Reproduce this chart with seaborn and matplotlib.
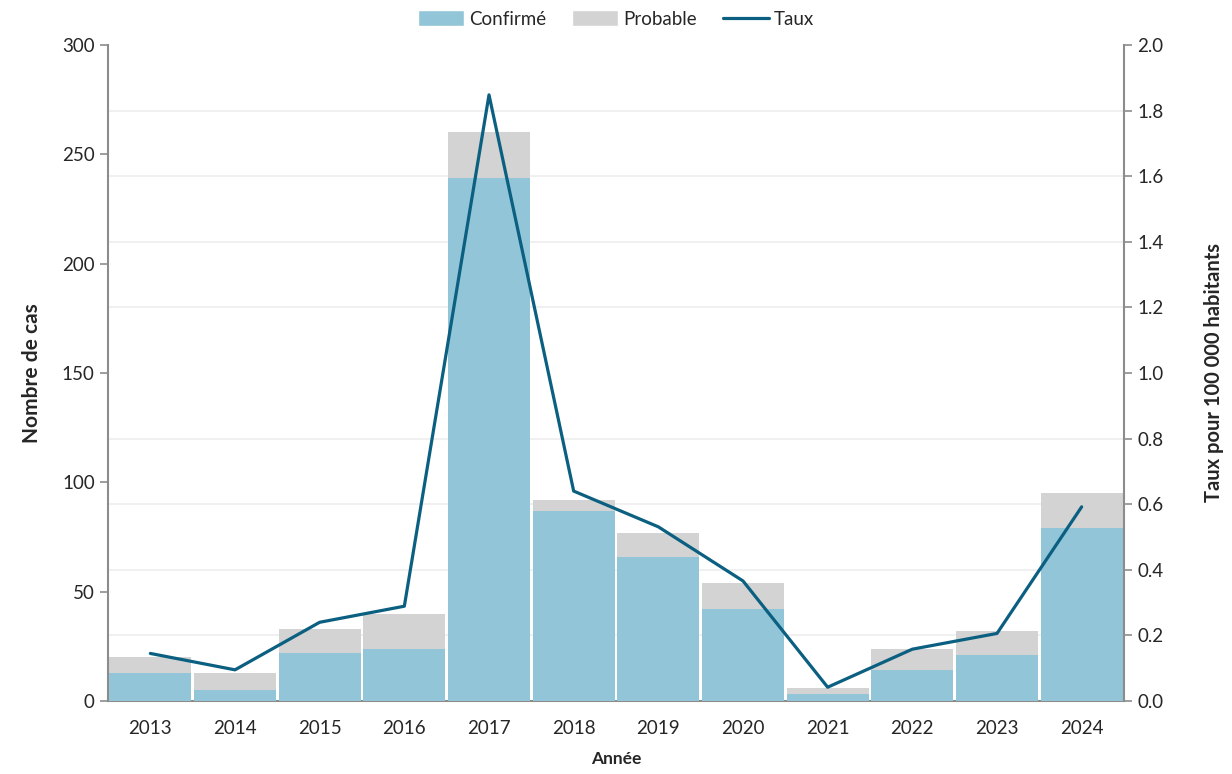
import numpy as np
import pandas as pd
import matplotlib
matplotlib.use("Agg")
import matplotlib.pyplot as plt
import seaborn as sns
from matplotlib.ticker import MultipleLocator, FixedLocator
from matplotlib.patches import Patch
from matplotlib.lines import Line2D

# Data
annees = ["2013", "2014", "2015", "2016", "2017", "2018",
          "2019", "2020", "2021", "2022", "2023", "2024"]
confirme = [13, 5, 22, 24, 239, 87, 66, 42, 3, 14, 21, 79]
probable = [7, 8, 11, 16, 21, 5, 11, 12, 3, 10, 11, 16]
taux = [0.145, 0.095, 0.24, 0.289, 1.848, 0.64, 0.531, 0.366, 0.042, 0.158, 0.206, 0.592]

BLEU = "#92C5D8"
GRIS = "#D3D3D3"
LIGNE = "#0B5F80"
AXE = "#8C8C8C"

sns.set_style("white")
plt.rcParams["font.family"] = ["Lato", "DejaVu Sans"]

df = pd.DataFrame({"Année": annees, "Confirmé": confirme, "Probable": probable, "Taux": taux})
df["Total"] = df["Confirmé"] + df["Probable"]
df["pos"] = np.arange(len(df))

fig = plt.figure(figsize=(12.32, 7.74), dpi=100)
ax = fig.add_axes([108 / 1232, 73 / 774, (1124 - 108) / 1232, 656 / 774])

# gridlines match the right axis steps (0.2 -> 30 cases)
ax.yaxis.set_minor_locator(MultipleLocator(30))
ax.grid(which="minor", axis="y", color="#EDEDED", linewidth=1.2, zorder=0)
ax.set_axisbelow(True)

sns.barplot(data=df, x="Année", y="Total", color=GRIS, width=0.97, saturation=1,
            linewidth=0, ax=ax, zorder=2)
sns.barplot(data=df, x="Année", y="Confirmé", color=BLEU, width=0.97, saturation=1,
            linewidth=0, ax=ax, zorder=3)

ax.set_xlim(-0.5, len(annees) - 0.5)
ax.set_ylim(0, 300)
ax.yaxis.set_major_locator(MultipleLocator(50))

# tick marks at bar boundaries, labels at centres
ax.xaxis.set_major_locator(FixedLocator(np.arange(-0.5, len(annees), 1.0)))
ax.xaxis.set_minor_locator(FixedLocator(np.arange(len(annees))))
ax.set_xticklabels([])
ax.set_xticklabels(annees, minor=True)
ax.tick_params(axis="x", which="major", length=6, width=1.2, color=AXE, direction="out")
ax.tick_params(axis="x", which="minor", length=0, labelsize=13.5, pad=14, labelcolor="#262626")
ax.tick_params(axis="y", which="major", length=6, width=1.2, color=AXE, direction="out",
               labelsize=13.5, labelcolor="#262626")
ax.tick_params(axis="y", which="minor", length=0)

ax.set_xlabel("Année", fontsize=12.5, fontweight="bold", labelpad=10)
ax.set_ylabel("Nombre de cas", fontsize=15, fontweight="bold", labelpad=14)

for side in ["top", "right"]:
    ax.spines[side].set_visible(False)
for side in ["left", "bottom"]:
    ax.spines[side].set_color(AXE)
    ax.spines[side].set_linewidth(1.5)

ax2 = ax.twinx()
sns.lineplot(data=df, x="pos", y="Taux", color=LIGNE, linewidth=2.3, ax=ax2, zorder=4)
ax2.set_ylim(0, 2.0)
ax2.yaxis.set_major_locator(MultipleLocator(0.2))
ax2.yaxis.set_major_formatter(matplotlib.ticker.FormatStrFormatter("%.1f"))
ax2.tick_params(axis="y", length=6, width=1.2, color=AXE, direction="out",
                labelsize=13.5, labelcolor="#262626")
ax2.set_ylabel("Taux pour 100 000 habitants", fontsize=14.5, fontweight="bold", labelpad=29)
ax2.set_xlabel("")
ax2.grid(False)
for side in ["top", "left", "bottom"]:
    ax2.spines[side].set_visible(False)
ax2.spines["right"].set_color(AXE)
ax2.spines["right"].set_linewidth(1.5)

handles = [Patch(facecolor=BLEU, label="Confirmé"),
           Patch(facecolor=GRIS, label="Probable"),
           Line2D([0], [0], color=LIGNE, linewidth=2.3, label="Taux")]
fig.legend(handles=handles, loc="center", bbox_to_anchor=(0.5, 1 - 19 / 774), ncol=3,
           frameon=False, fontsize=13.5, handlelength=2.45, handleheight=0.9,
           columnspacing=1.4, handletextpad=0.27)

fig.savefig("out.png", dpi=100)
